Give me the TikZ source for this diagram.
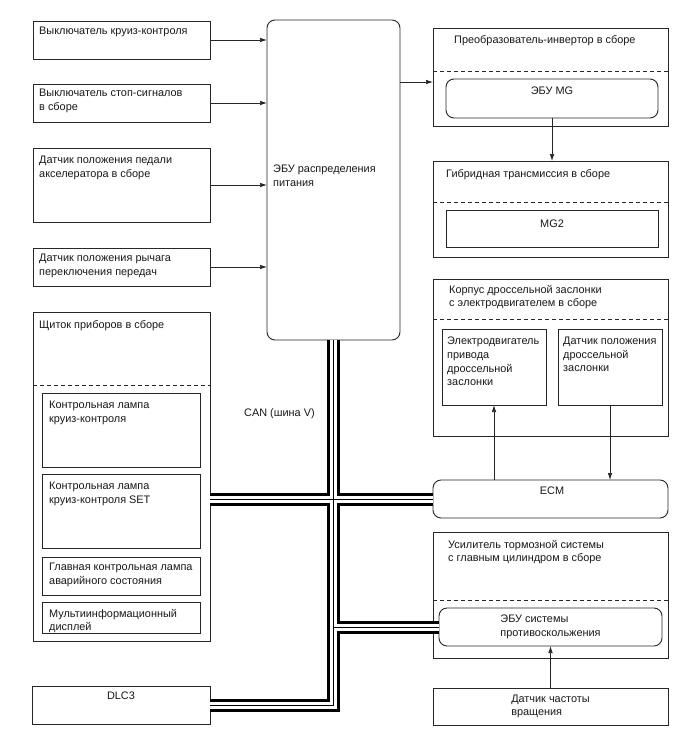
\documentclass[tikz,border=0pt]{standalone}
\usepackage{fontspec}
\setmainfont{Liberation Sans}
\usetikzlibrary{arrows.meta,fit}
\begin{document}
\begin{tikzpicture}[x=1pt,y=-1pt,
  box/.style={draw=black!85, line width=0.9pt, inner sep=0pt, outer sep=0pt},
  rbox/.style={box, rounded corners=8pt},
  lbl/.style={anchor=north west, align=left, inner sep=0pt, text=black!90,
    font=\fontsize{10.9}{13.6}\selectfont},
  ctr/.style={anchor=north, align=center, inner sep=0pt, text=black!90,
    font=\fontsize{10.9}{13.6}\selectfont},
  cbox/.style={align=left, inner sep=0pt, text=black!90,
    font=\fontsize{10.9}{13.6}\selectfont},
  arr/.style={draw=black!85, line width=0.7pt, -{Latex[length=7pt,width=4.5pt]}},
  dsh/.style={draw=black!85, line width=0.8pt, dash pattern=on 4pt off 3pt},
  busA/.style={draw=black, line width=13pt, line cap=butt, line join=miter},
  busB/.style={draw=white, line width=7pt, line cap=butt, line join=miter},
  busC/.style={draw=black, line width=0.8pt, line cap=butt, line join=miter}]
\useasboundingbox[fill=white] (0,0) rectangle (688,755);

% left column
\node[box, fit={(33,21) (210,59)}] (b1) {};
\node[lbl] at (39,27) {Выключатель круиз-контроля};
\node[box, fit={(33,84) (210,122)}] (b2) {};
\node[lbl] at (39,89) {Выключатель стоп-сигналов\\в сборе};
\node[box, fit={(33,148) (210,222)}] (b3) {};
\node[lbl] at (39,156) {Датчик положения педали\\акселератора в сборе};
\node[box, fit={(33,248) (210,286)}] (b4) {};
\node[lbl] at (39,254) {Датчик положения рычага\\переключения передач};

\node[box, fit={(33,312) (210,641)}] (cl) {};
\node[lbl] at (39,320) {Щиток приборов в сборе};
\draw[dsh] (33,385) -- (210,385);
\node[box, fit={(42,393) (200,467)}] (k1) {};
\node[lbl] at (49,401) {Контрольная лампа\\круиз-контроля};
\node[box, fit={(42,474) (200,548)}] (k2) {};
\node[lbl] at (49,482) {Контрольная лампа\\круиз-контроля SET};
\node[box, fit={(42,557) (200,595)}] (k3) {};
\node[lbl] at (49,563) {Главная контрольная лампа\\аварийного состояния};
\node[box, fit={(42,602) (200,633)}] (k4) {};
\node[lbl] at (49,609) {Мультиинформационный\\дисплей};

\node[box, fit={(32,686) (210,724)}] (dlc) {};
\node[ctr] at (121,692) {DLC3};

% power ECU
\node[rbox, fit={(267,20) (400,340)}] (ecu) {};
\node[lbl] at (273,165) {ЭБУ распределения\\питания};

% right column
\node[box, fit={(433,28) (668,126)}] (inv) {};
\node[lbl] at (454,35) {Преобразователь-инвертор в сборе};
\draw[dsh] (433,71) -- (668,71);
\node[rbox, fit={(446,79) (658,118)}] (mg) {};
\node[ctr] at (552,87) {ЭБУ MG};
\coordinate (invin) at (433,82);

\node[box, fit={(433,161) (668,257)}] (hyb) {};
\node[lbl] at (446,169) {Гибридная трансмиссия в сборе};
\draw[dsh] (433,202) -- (668,202);
\node[box, fit={(446,210) (658,247)}] (mg2) {};
\node[ctr] at (552,220) {MG2};

\node[box, fit={(433,279) (668,436)}] (thr) {};
\node[lbl] at (449,285) {Корпус дроссельной заслонки\\с электродвигателем в сборе};
\draw[dsh] (433,319) -- (668,319);
\node[box, fit={(442,329) (546,405)}] (mot) {};
\node[lbl] at (447,337) {Электродвигатель\\привода\\дроссельной\\заслонки};
\node[box, fit={(558,329) (662,405)}] (tps) {};
\node[lbl] at (563,337) {Датчик положения\\дроссельной\\заслонки};

\node[rbox, fit={(433,480) (668,518)}] (ecm) {};
\node[ctr] at (552,487) {ECM};

\node[box, fit={(433,532) (668,658)}] (brk) {};
\node[lbl] at (448,540) {Усилитель тормозной системы\\с главным цилиндром в сборе};
\draw[dsh] (433,600) -- (668,600);
\node[rbox, fit={(439,608) (662,646)}] (abs) {};
\node[cbox] at (abs.center) {ЭБУ системы\\противоскольжения};

\node[box, fit={(433,688) (668,725)}] (spd) {};
\node[cbox] at (spd.center) {Датчик частоты\\вращения};

% arrows
\foreach \b in {b1,b2,b3,b4}
  \draw[arr] (\b.east) -- (\b.east -| ecu.west);
\draw[arr] (ecu.east |- invin) -- (invin);
\draw[arr] (mg.south) -- (mg.south |- hyb.north);
\draw[arr] (mot.south |- ecm.north) -- (mot.south);
\draw[arr] (tps.south) -- (tps.south |- ecm.north);
\draw[arr] (spd.north) -- (spd.north |- abs.south);

% CAN bus
\foreach \s in {busA,busB,busC}{
  \draw[\s] (ecu.south) -- (ecu.south |- dlc.east) -- (dlc.east);
  \draw[\s] (cl.east |- ecm.west) -- (ecm.west);
  \draw[\s] (ecu.south |- abs.west) -- (abs.west);
}
\node[lbl] at (244,408) {CAN (шина V)};
\end{tikzpicture}
\end{document}
